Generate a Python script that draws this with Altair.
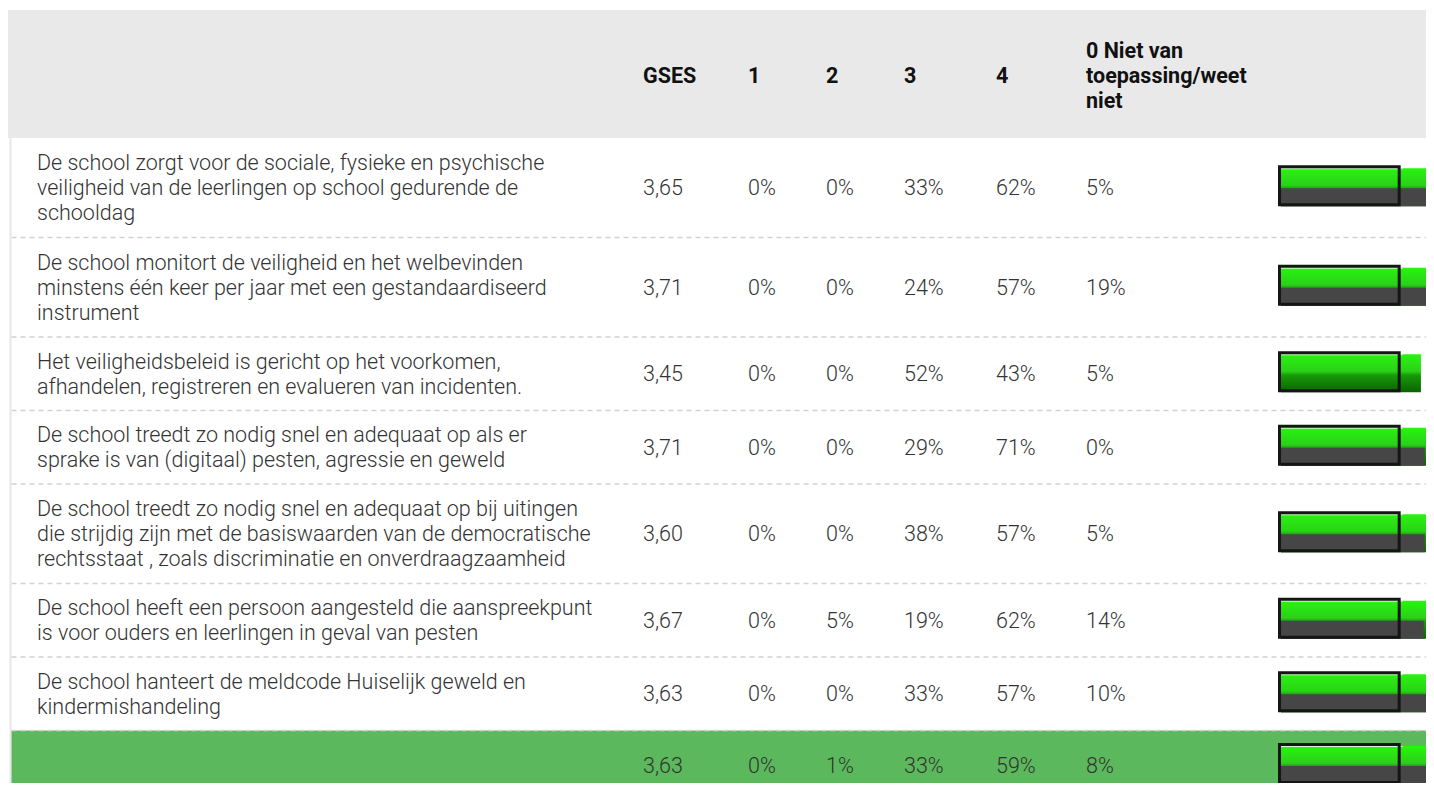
import altair as alt
import pandas as pd

# ---------------- data ----------------
statements = [
    "De school zorgt voor de sociale, fysieke en psychische\nveiligheid van de leerlingen op school gedurende de\nschooldag",
    "De school monitort de veiligheid en het welbevinden\nminstens één keer per jaar met een gestandaardiseerd\ninstrument",
    "Het veiligheidsbeleid is gericht op het voorkomen,\nafhandelen, registreren en evalueren van incidenten.",
    "De school treedt zo nodig snel en adequaat op als er\nsprake is van (digitaal) pesten, agressie en geweld",
    "De school treedt zo nodig snel en adequaat op bij uitingen\ndie strijdig zijn met de basiswaarden van de democratische\nrechtsstaat , zoals discriminatie en onverdraagzaamheid",
    "De school heeft een persoon aangesteld die aanspreekpunt\nis voor ouders en leerlingen in geval van pesten",
    "De school hanteert de meldcode Huiselijk geweld en\nkindermishandeling",
    "",
]
gses = [3.65, 3.71, 3.45, 3.71, 3.60, 3.67, 3.63, 3.63]
pct1 = [0, 0, 0, 0, 0, 0, 0, 0]
pct2 = [0, 0, 0, 0, 0, 5, 0, 1]
pct3 = [33, 24, 52, 29, 38, 19, 33, 33]
pct4 = [62, 57, 43, 71, 57, 62, 57, 59]
pct0 = [5, 19, 5, 0, 5, 14, 10, 8]
benchmark = [3.59, 3.70, None, 3.54, 3.54, 3.52, 3.62, 3.59]
norm = 3
headers = ["GSES", "1", "2", "3", "4", "0 Niet van\ntoepassing/weet\nniet"]

# ---------------- layout ----------------
W, H = 1418, 775
HEAD_TOP, HEAD_BOT = 2, 130
HEAD_MID = 67
LINE_H = 25
FS = 21.5
DY = 1.5
ROW_H = {1: 70, 2: 73.5, 3: 99.5}
TEXT_X = 29
COL_X = [635, 740, 818, 896, 988, 1078]
FONT = "Roboto"
TXT = "#333333"

tops, y = [], HEAD_BOT
for s in statements:
    n = s.count("\n") + 1
    tops.append(y)
    y += ROW_H[n]
bots = tops[1:] + [y]

df = pd.DataFrame({
    "statement": statements, "gses": gses, "p1": pct1, "p2": pct2,
    "p3": pct3, "p4": pct4, "p0": pct0, "bench": benchmark,
    "top": tops, "bot": bots,
})
df["yc"] = (df["top"] + df["bot"]) / 2
df["total"] = [False] * (len(df) - 1) + [True]

yscale = alt.Scale(domain=[0, H], range=[0, H])
xscale = alt.Scale(domain=[0, 4], range=[1273, 1273 + 4 * 40.56])

base = alt.Chart(df)

header_bg = alt.Chart(pd.DataFrame({"k": [0]})).mark_rect(color="#e9e9e9").encode(
    x=alt.value(0), x2=alt.value(W), y=alt.value(HEAD_TOP), y2=alt.value(HEAD_BOT))

left_border = base.mark_rect(color="#e6e6e6").encode(
    x=alt.value(1.5), x2=alt.value(3.5),
    y=alt.Y("top:Q", scale=yscale, axis=None), y2="bot:Q")

total_bg = base.transform_filter("datum.total").mark_rect(color="#5cb85c").encode(
    x=alt.value(3.5), x2=alt.value(W),
    y=alt.Y("top:Q", scale=yscale, axis=None), y2="bot:Q")

separators = base.transform_filter("!datum.total").mark_rule(
    color="#d2d2d2", strokeDash=[5, 4], strokeWidth=1.5).encode(
    x=alt.value(3.5), x2=alt.value(W),
    y=alt.Y("bot:Q", scale=yscale, axis=None))

layers = [header_bg, left_border, total_bg, separators]

for lab, cx in zip(headers, COL_X):
    n = lab.count("\n") + 1
    layers.append(
        alt.Chart(pd.DataFrame({"t": [lab]})).mark_text(
            align="left", baseline="middle", font=FONT, fontWeight="bold", dy=DY,
            fontSize=FS, color="#111111", lineBreak="\n", lineHeight=LINE_H).encode(
            x=alt.value(cx), y=alt.value(HEAD_MID - (n - 1) * LINE_H / 2), text="t:N"))

layers.append(base.transform_calculate(
    ty=f"datum.yc - (length(split(datum.statement, '\\n')) - 1) * {LINE_H / 2}"
).mark_text(
    align="left", baseline="middle", font=FONT, fontWeight=300, fontSize=FS, dy=DY,
    color=TXT, lineBreak="\n", lineHeight=LINE_H).encode(
    x=alt.value(TEXT_X), y=alt.Y("ty:Q", scale=yscale, axis=None), text="statement:N"))

exprs = [
    "replace(format(datum.gses, '.2f'), '.', ',')",
    "datum.p1 + '%'", "datum.p2 + '%'", "datum.p3 + '%'", "datum.p4 + '%'", "datum.p0 + '%'",
]
for ex, cx in zip(exprs, COL_X):
    layers.append(base.transform_calculate(lbl=ex).mark_text(
        align="left", baseline="middle", font=FONT, fontWeight=300, fontSize=FS, dy=DY,
        color=TXT).encode(
        x=alt.value(cx), y=alt.Y("yc:Q", scale=yscale, axis=None), text="lbl:N"))

grad = alt.Gradient(
    gradient="linear", x1=0, x2=0, y1=0, y2=1,
    stops=[alt.GradientStop(color="#27f50e", offset=0),
           alt.GradientStop(color="#2bd01a", offset=0.45),
           alt.GradientStop(color="#179a0a", offset=0.55),
           alt.GradientStop(color="#0a6300", offset=1)])

green = base.transform_calculate(
    zero="0", gt="datum.yc - 19.5", gb="datum.yc + 18.5").mark_rect(color=grad).encode(
    x=alt.X("zero:Q", scale=xscale, axis=None), x2="gses:Q",
    y=alt.Y("gt:Q", scale=yscale, axis=None), y2="gb:Q")

gray = base.transform_filter("isValid(datum.bench)").transform_calculate(
    zero="0", gt="datum.yc + 0.5", gb="datum.yc + 18.5").mark_rect(color="#464646").encode(
    x=alt.X("zero:Q", scale=xscale, axis=None), x2="bench:Q",
    y=alt.Y("gt:Q", scale=yscale, axis=None), y2="gb:Q")

highlight = base.transform_calculate(
    zero="0", nv=str(norm), hy="datum.yc - 19").mark_rule(
    color="#e8f5e4", strokeWidth=1.2, opacity=0.9).encode(
    x=alt.X("zero:Q", scale=xscale, axis=None), x2="nv:Q",
    y=alt.Y("hy:Q", scale=yscale, axis=None))

frame = base.transform_calculate(
    zero="0", nv=str(norm), ft="datum.yc - 21", fb="datum.yc + 17").mark_rect(
    fillOpacity=0, stroke="#151515", strokeWidth=3, xOffset=-1.5, x2Offset=-3.5).encode(
    x=alt.X("zero:Q", scale=xscale, axis=None), x2="nv:Q",
    y=alt.Y("ft:Q", scale=yscale, axis=None), y2="fb:Q")

layers += [green, gray, highlight, frame]

chart = alt.layer(*layers).properties(
    width=W, height=H, padding=0, autosize=alt.AutoSizeParams(type="none")
).configure_view(stroke=None)

chart.save("out.html", embed_options={"renderer": "svg", "actions": False})
